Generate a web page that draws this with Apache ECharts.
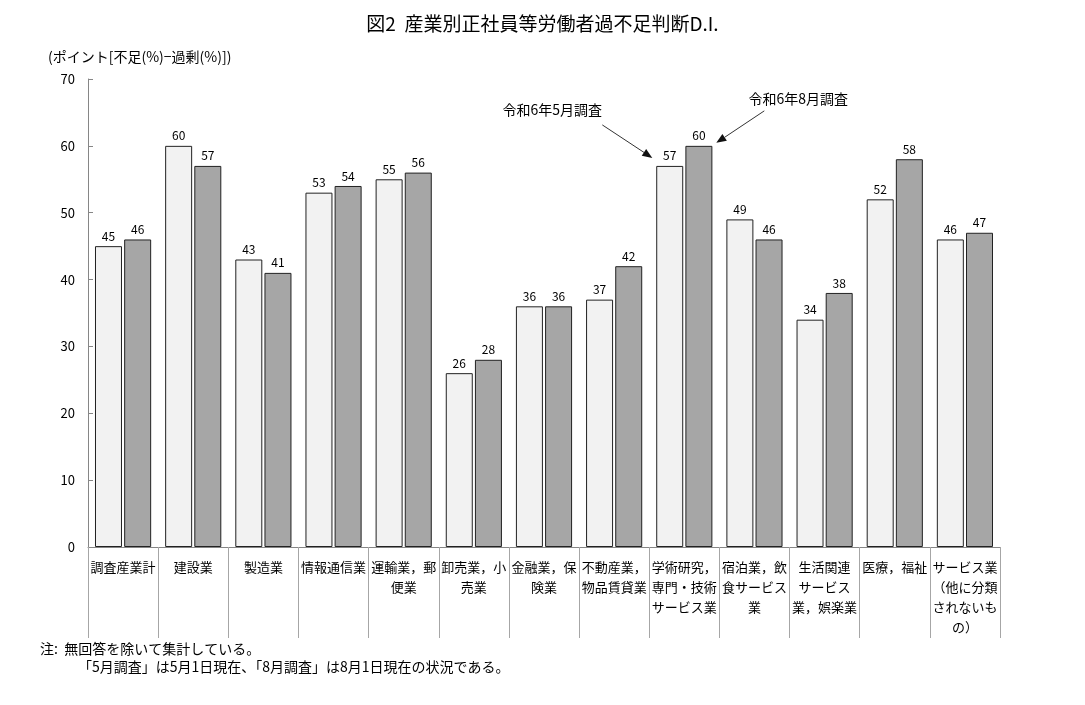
<!DOCTYPE html>
<html><head><meta charset="utf-8">
<script src="https://cdn.jsdelivr.net/npm/echarts@6/dist/echarts.min.js"></script>
<style>html,body{margin:0;padding:0;background:#fff}#c{width:1085px;height:705px}</style>
</head><body><div id="c"></div>
<script>
const categories = [
  "調査産業計", "建設業", "製造業", "情報通信業", "運輸業，郵\n便業", "卸売業，小\n売業",
  "金融業，保\n険業", "不動産業，\n物品賃貸業", "学術研究，\n専門・技術\nサービス業",
  "宿泊業，飲\n食サービス\n業", "生活関連\nサービス\n業，娯楽業", "医療，福祉",
  "サービス業\n（他に分類\nされないも\nの）"
];
const seriesNames = ["令和6年5月調査", "令和6年8月調査"];
const may = [45, 60, 43, 53, 55, 26, 36, 37, 57, 49, 34, 52, 46];
const aug = [46, 57, 41, 54, 56, 28, 36, 42, 60, 46, 38, 58, 47];
const yTicks = { min: 0, max: 70, interval: 10 };
const titleText = "図2  産業別正社員等労働者過不足判断D.I.";
const yAxisName = "(ポイント[不足(%)−過剰(%)])";
const notes = ["注:  無回答を除いて集計している。", "「5月調査」は5月1日現在、「8月調査」は8月1日現在の状況である。"];

const FONT = '"Noto Sans CJK JP", "Noto Sans", sans-serif';
const chart = echarts.init(document.getElementById('c'));
const lbl = { show: true, position: 'top', distance: 4, color: '#000', fontSize: 12, fontFamily: FONT };
chart.setOption({
  animation: false,
  textStyle: { fontFamily: FONT },
  title: { text: titleText, left: 'center', top: 9, textStyle: { fontSize: 19, fontWeight: 'normal', color: '#000', fontFamily: FONT } },
  grid: { left: 88, right: 85, top: 79, bottom: 158 },
  xAxis: {
    type: 'category', data: categories,
    axisLine: { lineStyle: { color: '#868686', width: 1 } },
    axisTick: { show: true, length: 91, lineStyle: { color: '#a6a6a6' } },
    axisLabel: { interval: 0, color: '#000', fontSize: 13, lineHeight: 20, margin: 10, fontFamily: FONT }
  },
  yAxis: {
    type: 'value', min: yTicks.min, max: yTicks.max, interval: yTicks.interval,
    splitLine: { show: false },
    axisLine: { show: true, lineStyle: { color: '#868686' } },
    axisTick: { show: true, inside: true, length: 5, lineStyle: { color: '#868686' } },
    axisLabel: { color: '#000', fontSize: 13, margin: 13, fontFamily: FONT }
  },
  series: [
    { name: seriesNames[0], type: 'bar', data: may, barWidth: 27, barGap: '8%',
      itemStyle: { color: '#f2f2f2', borderColor: '#222', borderWidth: 1 }, label: lbl },
    { name: seriesNames[1], type: 'bar', data: aug, barWidth: 27,
      itemStyle: { color: '#a6a6a6', borderColor: '#222', borderWidth: 1 }, label: lbl }
  ]
});

function arrow(tail, tip) {
  const dx = tip[0] - tail[0], dy = tip[1] - tail[1];
  const L = Math.sqrt(dx * dx + dy * dy), ux = dx / L, uy = dy / L;
  const h = 10, w = 4;
  const bx = tip[0] - ux * h, by = tip[1] - uy * h;
  return [
    { type: 'line', shape: { x1: tail[0], y1: tail[1], x2: bx, y2: by }, style: { stroke: '#333', lineWidth: 1 } },
    { type: 'polygon', shape: { points: [tip, [bx - uy * w, by + ux * w], [bx + uy * w, by - ux * w]] }, style: { fill: '#111' } }
  ];
}
const idx = 8;
const p1 = chart.convertToPixel({ gridIndex: 0 }, [idx, may[idx]]);
const p2 = chart.convertToPixel({ gridIndex: 0 }, [idx, aug[idx]]);
const tip1 = [p1[0] - 32, p1[1] - 8];
const tip2 = [p2[0] + 32, p2[1] - 3];
const tail1 = [tip1[0] - 50, tip1[1] - 33];
const tail2 = [tip2[0] + 48, tip2[1] - 32];
const txt = (t, x, y, align, size) => ({ type: 'text', x: x, y: y, style: { text: t, fill: '#000', font: (size || 14) + 'px ' + FONT, textAlign: align || 'left', textVerticalAlign: 'middle' } });
chart.setOption({
  graphic: [
    txt(yAxisName, 48, 57, 'left', 14),
    txt(notes[0], 40, 649, 'left', 14),
    txt(notes[1], 78, 667, 'left', 14),
    txt(seriesNames[0], tip1[0] - 100, tip1[1] - 48, 'center', 14),
    txt(seriesNames[1], tip2[0] + 82, tip2[1] - 44, 'center', 14),
    ...arrow(tail1, tip1),
    ...arrow(tail2, tip2)
  ]
});
</script></body></html>
